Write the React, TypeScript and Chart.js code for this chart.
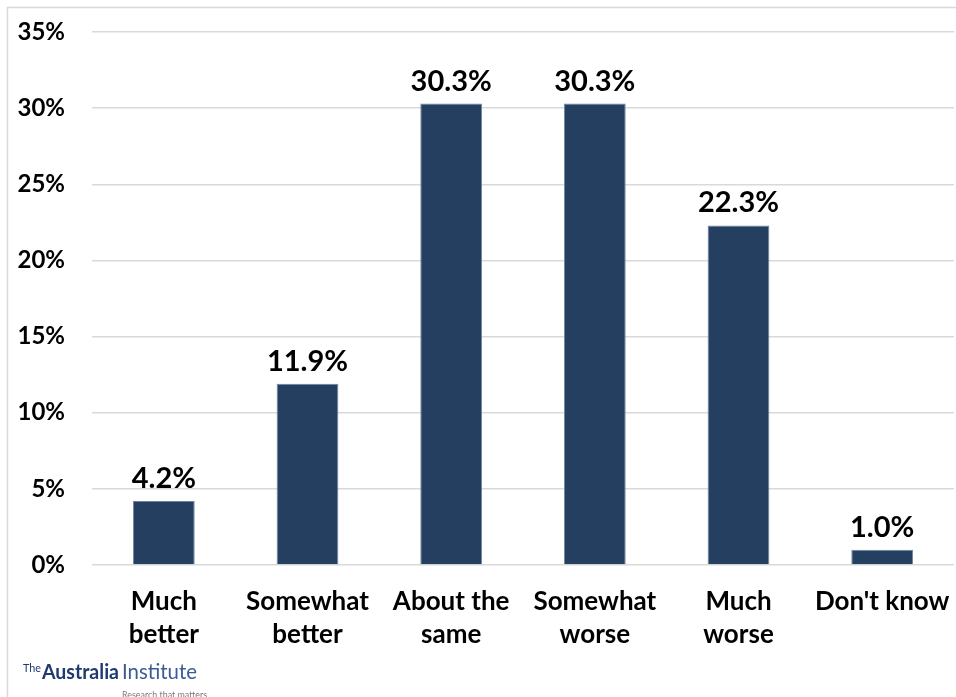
import React, { useEffect, useRef } from "react";
import { Chart, registerables } from "chart.js";

Chart.register(...registerables);

const categories: string[][] = [
  ["Much", "better"],
  ["Somewhat", "better"],
  ["About the", "same"],
  ["Somewhat", "worse"],
  ["Much", "worse"],
  ["Don't know"],
];
const shares: number[] = [4.2, 11.9, 30.3, 30.3, 22.3, 1.0];
const yTicks: number[] = [0, 5, 10, 15, 20, 25, 30, 35];

const FONT = "Lato, 'Open Sans', sans-serif";
const BAR = "#243f60";

const valueLabels = {
  id: "valueLabels",
  afterDatasetsDraw(chart: any) {
    const { ctx } = chart;
    const meta = chart.getDatasetMeta(0);
    ctx.save();
    ctx.font = `bold 29px ${FONT}`;
    ctx.fillStyle = "#000";
    ctx.textAlign = "center";
    ctx.textBaseline = "alphabetic";
    meta.data.forEach((bar: any, i: number) => {
      ctx.fillText(shares[i].toFixed(1) + "%", bar.x, bar.y - 13);
    });
    ctx.restore();
  },
};

// draws text squeezed or stretched to an exact width
function fitText(ctx: CanvasRenderingContext2D, text: string, x: number, y: number, width: number) {
  const w = ctx.measureText(text).width;
  ctx.save();
  ctx.translate(x, y);
  ctx.scale(width / w, 1);
  ctx.fillText(text, 0, 0);
  ctx.restore();
}

const frameAndLogo = {
  id: "frameAndLogo",
  afterDraw(chart: any) {
    const { ctx } = chart;
    ctx.save();
    // outer frame
    ctx.strokeStyle = "#d9d9d9";
    ctx.lineWidth = 1.5;
    ctx.beginPath();
    ctx.moveTo(7.5, 700);
    ctx.lineTo(7.5, 7.5);
    ctx.lineTo(960, 7.5);
    ctx.stroke();

    // logo
    ctx.textBaseline = "alphabetic";
    ctx.textAlign = "left";
    ctx.fillStyle = "#1f3a6e";
    ctx.font = `12px ${FONT}`;
    fitText(ctx, "The", 23, 672, 18);
    ctx.font = `bold 21px ${FONT}`;
    fitText(ctx, "Australia", 42, 679, 77);
    ctx.fillStyle = "#3b5b94";
    ctx.font = `21px ${FONT}`;
    fitText(ctx, "Institute", 122, 679, 75);
    ctx.fillStyle = "#7a7a7a";
    ctx.font = `10px ${FONT}`;
    fitText(ctx, "Research that matters", 122, 698, 85);
    ctx.restore();
  },
};

export default function App() {
  const ref = useRef<HTMLCanvasElement>(null);

  useEffect(() => {
    document.body.style.margin = "0";
    const chart = new Chart(ref.current!, {
      type: "bar",
      data: {
        labels: categories,
        datasets: [
          {
            data: shares,
            backgroundColor: BAR,
            borderColor: "#6f86a3",
            borderWidth: 1,
            barPercentage: 0.43,
            categoryPercentage: 1,
          },
        ],
      },
      options: {
        animation: false,
        responsive: false,
        layout: { padding: { top: 32, right: 2, left: 0, bottom: 0 } },
        plugins: { legend: { display: false }, tooltip: { enabled: false } },
        scales: {
          x: {
            grid: { display: false, drawTicks: false },
            border: { display: false },
            ticks: {
              color: "#000",
              font: { family: FONT, weight: "bold", size: 26, lineHeight: 1.27 },
              padding: 20,
              maxRotation: 0,
              autoSkip: false,
            },
            afterFit(scale: any) {
              scale.height = 132;
              scale.paddingRight = 0;
              scale.paddingLeft = 0;
            },
          },
          y: {
            min: 0,
            max: 35,
            afterBuildTicks(scale: any) {
              scale.ticks = yTicks.map((v) => ({ value: v }));
            },
            grid: { color: "#d9d9d9", lineWidth: 1.5, drawTicks: false },
            border: { display: false },
            ticks: {
              color: "#000",
              font: { family: FONT, weight: "bold", size: 24 },
              padding: 27,
              callback: (v: any) => v + "%",
            },
            afterFit(scale: any) {
              scale.width = 92;
              scale.paddingTop = 0;
              scale.paddingBottom = 0;
            },
          },
        },
      },
      plugins: [valueLabels, frameAndLogo],
    });
    return () => chart.destroy();
  }, []);

  return (
    <div style={{ position: "fixed", left: 0, top: 0, width: 956, height: 697, background: "#fff" }}>
      <canvas ref={ref} width={956} height={697} style={{ display: "block" }} />
    </div>
  );
}
